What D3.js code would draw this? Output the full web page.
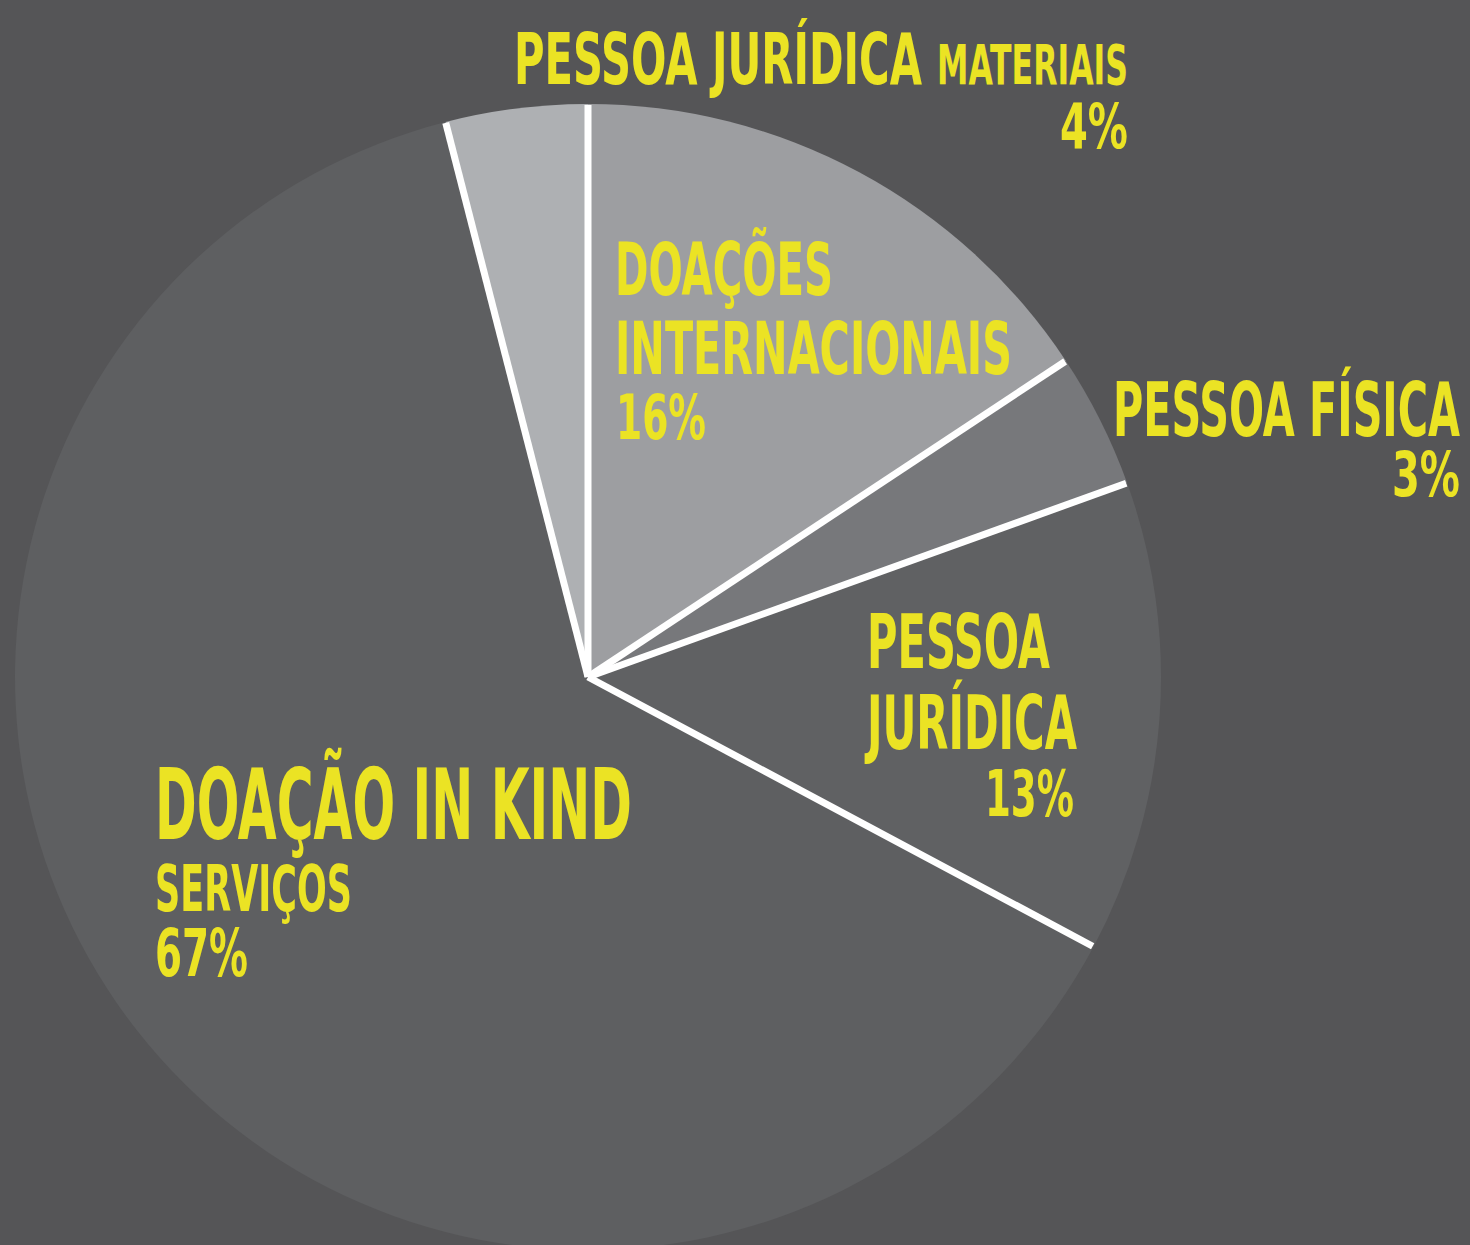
<!DOCTYPE html>
<html>
<head>
<meta charset="utf-8">
<script src="https://cdn.jsdelivr.net/npm/d3@7"></script>
<style>
  html, body { margin: 0; padding: 0; background: #555557; }
  svg { display: block; }
</style>
</head>
<body>
<svg id="chart" width="1470" height="1245"></svg>
<script>
// ---- data ----
const categories = ["Doações Internacionais", "Pessoa Física", "Pessoa Jurídica", "Doação in Kind", "Pessoa Jurídica"];
const subCategories = ["", "", "", "Serviços", "Materiais"];
// slice sizes as drawn (angles measured in the picture)
const sliceShares = [15.7, 3.8, 13.3, 63.2, 4.0];
// percentages as printed
const percentLabels = ["16%", "3%", "13%", "67%", "4%"];

// ---- style ----
const sliceColors = ["#9d9ea1", "#77787b", "#606163", "#5e5f61", "#aeb0b3"];
const bg = "#555557";
const textColor = "#ebe324";
const W = 1470, H = 1245;
const cx = 588, cy = 677, R = 573;

const svg = d3.select("#chart");
svg.append("rect").attr("width", W).attr("height", H).attr("fill", bg);

const pie = d3.pie().sort(null).value(d => d).startAngle(0).endAngle(2 * Math.PI);
const arcs = pie(sliceShares);
const arc = d3.arc().innerRadius(0).outerRadius(R);

const g = svg.append("g").attr("transform", `translate(${cx},${cy})`);
g.selectAll("path.slice").data(arcs).enter().append("path")
  .attr("class", "slice")
  .attr("d", arc)
  .attr("fill", (d, i) => sliceColors[i]);

// white separators on each slice boundary
g.selectAll("line.sep").data(arcs).enter().append("line")
  .attr("class", "sep")
  .attr("x1", 0).attr("y1", 0)
  .attr("x2", d => d3.pointRadial(d.startAngle, R - 1)[0])
  .attr("y2", d => d3.pointRadial(d.startAngle, R - 1)[1])
  .attr("stroke", "#ffffff")
  .attr("stroke-width", 7);

// ---- labels: layout (x = left or right edge, y = baseline, cap height, width) ----
const up = s => s.toUpperCase();
const labelLayout = [
  // Doações internacionais
  { text: up(categories[0]).split(" ")[0], x: 615, y: 295, cap: 53, w: 218, anchor: "start" },
  { text: up(categories[0]).split(" ")[1], x: 615, y: 374, cap: 53, w: 397, anchor: "start" },
  { text: percentLabels[0], x: 616, y: 439, cap: 46, w: 90, anchor: "start" },
  // Pessoa física
  { text: up(categories[1]), x: 1113, y: 436, cap: 54, w: 347, anchor: "start" },
  { text: percentLabels[1], x: 1460, y: 496, cap: 45, w: 68, anchor: "end" },
  // Pessoa jurídica
  { text: up(categories[2]).split(" ")[0], x: 867, y: 668, cap: 54, w: 183, anchor: "start" },
  { text: up(categories[2]).split(" ")[1], x: 867, y: 749, cap: 54, w: 210, anchor: "start" },
  { text: percentLabels[2], x: 1074, y: 816, cap: 47, w: 89, anchor: "end" },
  // Doação in kind - serviços
  { text: up(categories[3]), x: 155, y: 839, cap: 71, w: 477, anchor: "start" },
  { text: up(subCategories[3]), x: 155, y: 911, cap: 47, w: 197, anchor: "start" },
  { text: percentLabels[3], x: 155, y: 976, cap: 48, w: 93, anchor: "start" },
  // Pessoa jurídica - materiais
  { text: up(categories[4]), x: 514, y: 84, cap: 52, w: 408, anchor: "start" },
  { text: up(subCategories[4]), x: 937, y: 84, cap: 40, w: 191, anchor: "start" },
  { text: percentLabels[4], x: 1128, y: 148, cap: 45, w: 68, anchor: "end" }
];

const CAP = 0.729; // DejaVu Sans cap-height ratio
svg.append("g").selectAll("text").data(labelLayout).enter().append("text")
  .attr("x", 0)
  .attr("y", 0)
  .attr("font-family", "'DejaVu Sans Condensed', 'DejaVu Sans', sans-serif")
  .attr("font-stretch", "condensed")
  .attr("font-weight", "bold")
  .attr("font-size", d => (d.cap / CAP).toFixed(1) + "px")
  .attr("fill", textColor)
  .text(d => d.text)
  .each(function (d) {
    const nw = this.getComputedTextLength();
    const sx = d.w / nw;
    const left = d.anchor === "end" ? d.x - d.w : d.x;
    d3.select(this).attr("transform", `translate(${left},${d.y}) scale(${sx.toFixed(4)},1)`);
  });
</script>
</body>
</html>
